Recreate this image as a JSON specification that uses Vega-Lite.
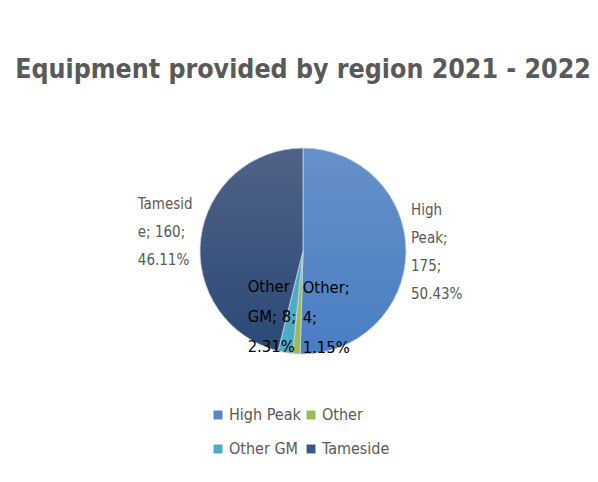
{
  "$schema": "https://vega.github.io/schema/vega-lite/v6.json",
  "width": 590,
  "height": 462,
  "autosize": {"type": "none"},
  "padding": {"left": 8, "top": 20, "right": 0, "bottom": 0},
  "background": "white",
  "config": {"view": {"stroke": null}},
  "title": {
    "text": "Equipment provided by region 2021 - 2022",
    "font": "DejaVu Sans Condensed",
    "fontWeight": "bold",
    "fontSize": 26.5,
    "color": "#595959",
    "anchor": "middle",
    "orient": "top",
    "offset": -63
  },
  "data": {
    "values": [
      {"region": "High Peak", "count": 175, "order": 1, "label": "High\nPeak;\n175;\n50.43%"},
      {"region": "Other", "count": 4, "order": 2, "label": "Other;\n4;\n1.15%"},
      {"region": "Other GM", "count": 8, "order": 3, "label": "Other\nGM; 8;\n2.31%"},
      {"region": "Tameside", "count": 160, "order": 4, "label": "Tamesid\ne; 160;\n46.11%"}
    ]
  },
  "layer": [
    {
      "mark": {"type": "arc", "outerRadius": 103, "stroke": "#c9d3e3", "strokeWidth": 0.8},
      "encoding": {
        "theta": {"field": "count", "type": "quantitative", "stack": true},
        "order": {"field": "order", "type": "quantitative"},
        "color": {
          "condition": [
            {"test": "datum.region === 'High Peak'", "value": {"gradient": "linear", "x1": 0, "y1": 0, "x2": 0, "y2": 1, "stops": [{"offset": 0, "color": "#6690c8"}, {"offset": 1, "color": "#4a7ec4"}]}},
            {"test": "datum.region === 'Tameside'", "value": {"gradient": "linear", "x1": 0, "y1": 0, "x2": 0, "y2": 1, "stops": [{"offset": 0, "color": "#506286"}, {"offset": 1, "color": "#2b4977"}]}}
          ],
          "field": "region",
          "type": "nominal",
          "scale": {"domain": ["High Peak", "Other", "Other GM", "Tameside"], "range": ["#5586c6", "#9bbb59", "#4bacc6", "#3d5784"]},
          "legend": {
            "orient": "none",
            "legendX": 202,
            "legendY": 387,
            "direction": "horizontal",
            "columns": 2,
            "title": null,
            "symbolType": "square",
            "symbolSize": 80,
            "symbolStrokeWidth": 0,
            "labelOffset": 3,
            "labelFont": "DejaVu Sans Condensed",
            "labelFontSize": 16,
            "labelColor": "#595959",
            "rowPadding": 18,
            "columnPadding": 2
          }
        }
      }
    },
    {
      "mark": {"type": "text", "radius": 108, "align": "left", "baseline": "middle", "dy": -42, "lineBreak": "\n", "font": "DejaVu Sans Condensed", "fontSize": 15, "lineHeight": 28, "color": "#595959"},
      "encoding": {
        "theta": {"field": "count", "type": "quantitative", "stack": true},
        "order": {"field": "order", "type": "quantitative"},
        "text": {"condition": {"test": "datum.region === 'High Peak'", "field": "label"}, "value": ""}
      }
    },
    {
      "mark": {"type": "text", "radius": 108, "align": "left", "dx": -58, "dy": -34, "baseline": "middle", "lineBreak": "\n", "font": "DejaVu Sans Condensed", "fontSize": 15, "lineHeight": 28, "color": "#595959"},
      "encoding": {
        "theta": {"field": "count", "type": "quantitative", "stack": true},
        "order": {"field": "order", "type": "quantitative"},
        "text": {"condition": {"test": "datum.region === 'Tameside'", "field": "label"}, "value": ""}
      }
    },
    {
      "mark": {"type": "text", "radius": 37, "align": "left", "dx": 2, "baseline": "middle", "lineBreak": "\n", "font": "DejaVu Sans Condensed", "fontSize": 16.5, "lineHeight": 30, "color": "#000000"},
      "encoding": {
        "theta": {"field": "count", "type": "quantitative", "stack": true},
        "order": {"field": "order", "type": "quantitative"},
        "text": {"condition": {"test": "datum.region === 'Other'", "field": "label"}, "value": ""}
      }
    },
    {
      "mark": {"type": "text", "radius": 37, "align": "left", "dx": -49, "baseline": "middle", "lineBreak": "\n", "font": "DejaVu Sans Condensed", "fontSize": 16.5, "lineHeight": 30, "color": "#000000"},
      "encoding": {
        "theta": {"field": "count", "type": "quantitative", "stack": true},
        "order": {"field": "order", "type": "quantitative"},
        "text": {"condition": {"test": "datum.region === 'Other GM'", "field": "label"}, "value": ""}
      }
    }
  ]
}
